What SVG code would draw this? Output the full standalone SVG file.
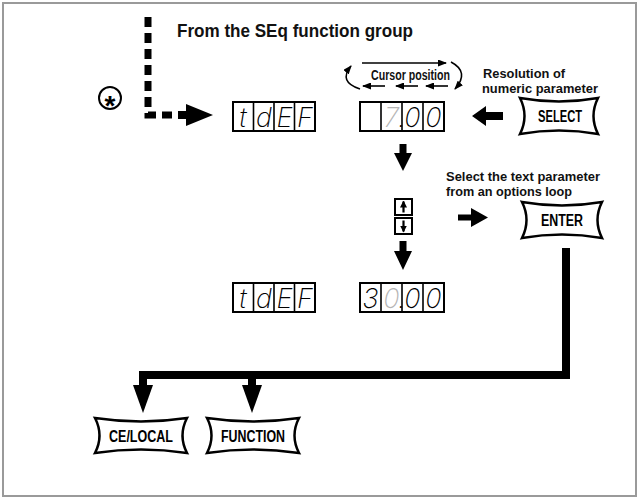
<svg xmlns="http://www.w3.org/2000/svg" width="640" height="500" viewBox="0 0 640 500">
<style>
.lbl{font-family:"Liberation Sans Narrow","Liberation Sans",Arial,sans-serif;font-weight:bold;fill:#111}
.btn{fill:#fff;stroke:#000;stroke-width:2.5;stroke-linejoin:miter}
.btxt{font-family:"Liberation Sans Narrow","Liberation Sans",Arial,sans-serif;font-weight:bold;font-size:16px;fill:#000;text-anchor:middle}
.disp{fill:#fff;stroke:#000;stroke-width:2}
.cell{stroke:#000;stroke-width:1.6}
.seg{font-family:Inter,"DejaVu Sans",sans-serif;font-weight:200;font-style:italic;font-size:27px;text-anchor:middle;fill:#000}
.thin{fill:none;stroke:#000;stroke-width:1.6}
.ud{fill:none;stroke:#000;stroke-width:2.2}
</style>
<defs>
<marker id="sh" viewBox="0 0 9 7" refX="8" refY="3.5" markerWidth="9" markerHeight="7" orient="auto" markerUnits="userSpaceOnUse">
<path d="M0,0 L9,3.5 L0,7 z" fill="#000"/>
</marker>
<marker id="ua" viewBox="0 0 7 7" refX="6" refY="3.5" markerWidth="7" markerHeight="7" orient="auto" markerUnits="userSpaceOnUse">
<path d="M0,0 L7,3.5 L0,7 z" fill="#000"/>
</marker>
</defs>
<rect x="3" y="3" width="633" height="493" fill="#fff" stroke="#9a9a9a" stroke-width="2"/>

<g id="label-from">
<text class="lbl" x="177" y="37" font-size="18" textLength="236" lengthAdjust="spacingAndGlyphs">From the SEq function group</text>
</g>

<g id="asterisk">
<circle cx="110" cy="98" r="11" fill="none" stroke="#000" stroke-width="2"/>
<text x="110" y="115" font-family="Liberation Sans,Arial,sans-serif" font-weight="bold" font-size="28" text-anchor="middle">*</text>
</g>

<g id="display-tdef-1">
<rect class="disp" x="233" y="102" width="82" height="29"/>
<path class="cell" d="M253.5,102V131M274,102V131M294.5,102V131"/>
<text class="seg" x="243 264 284.5 305" y="127">tdEF</text>
</g>

<g id="display-value-1">
<rect class="disp" x="360" y="102" width="84" height="29"/>
<path class="cell" d="M381,102V131M402,102V131M423,102V131"/>
<text class="seg" x="391.5 402 412.5 433.5" y="127"><tspan fill="#b5b5b5">7</tspan>.00</text>
</g>

<g id="label-cursor">
<text class="lbl" x="371" y="80" font-size="14.5" textLength="79" lengthAdjust="spacingAndGlyphs">Cursor position</text>
</g>

<g id="label-resolution">
<text class="lbl" x="483" y="78" font-size="13" textLength="82" lengthAdjust="spacingAndGlyphs">Resolution of</text>
<text class="lbl" x="482" y="92.6" font-size="13" textLength="116" lengthAdjust="spacingAndGlyphs">numeric parameter</text>
</g>

<g id="btn-select">
<path class="btn" d="M520,98 Q559,105 598,98 Q589,116 598,134 Q559,127 520,134 Q529,116 520,98 Z"/>
<text class="btxt" x="560" y="122" textLength="44" lengthAdjust="spacingAndGlyphs">SELECT</text>
</g>

<g id="updown">
<rect class="disp" x="395" y="199" width="17" height="16"/>
<rect class="disp" x="395" y="218" width="17" height="16"/>
<line class="ud" x1="403.5" y1="212.5" x2="403.5" y2="201.5" marker-end="url(#ua)"/>
<line class="ud" x1="403.5" y1="220.5" x2="403.5" y2="231.5" marker-end="url(#ua)"/>
</g>

<g id="label-select-text">
<text class="lbl" x="446" y="181" font-size="13" textLength="154" lengthAdjust="spacingAndGlyphs">Select the text parameter</text>
<text class="lbl" x="446" y="195.6" font-size="13" textLength="126" lengthAdjust="spacingAndGlyphs">from an options loop</text>
</g>

<g id="btn-enter">
<path class="btn" d="M522,202 Q562,209 602,202 Q593,220 602,238 Q562,231 522,238 Q531,220 522,202 Z"/>
<text class="btxt" x="562" y="226" textLength="42" lengthAdjust="spacingAndGlyphs">ENTER</text>
</g>

<g id="display-tdef-2">
<rect class="disp" x="233" y="283" width="82" height="29"/>
<path class="cell" d="M253.5,283V312M274,283V312M294.5,283V312"/>
<text class="seg" x="243 264 284.5 305" y="308">tdEF</text>
</g>

<g id="display-value-2">
<rect class="disp" x="360" y="283" width="84" height="29"/>
<path class="cell" d="M381,283V312M402,283V312M423,283V312"/>
<text class="seg" x="370.5 391.5 402 412.5 433.5" y="308">3<tspan fill="#b5b5b5">0</tspan>.00</text>
</g>

<g id="btn-celocal">
<path class="btn" d="M95,418 Q141,425 187,418 Q178,435.5 187,453 Q141,446 95,453 Q104,435.5 95,418 Z"/>
<text class="btxt" x="141" y="441.5" textLength="64" lengthAdjust="spacingAndGlyphs">CE/LOCAL</text>
</g>

<g id="btn-function">
<path class="btn" d="M207,418 Q253,425 299,418 Q290,435.5 299,453 Q253,446 207,453 Q216,435.5 207,418 Z"/>
<text class="btxt" x="253" y="441.5" textLength="64" lengthAdjust="spacingAndGlyphs">FUNCTION</text>
</g>

<g id="connectors">
<path d="M148,17 V115 H172" fill="none" stroke="#000" stroke-width="7" stroke-dasharray="10 6"/>
<polygon points="178,111 186,111 186,104 213,115 186,126 186,119 178,119" fill="#000"/>
<line class="thin" x1="362" y1="63" x2="446" y2="63" marker-end="url(#sh)"/>
<path class="thin" d="M451,62 Q470,72 455,89" marker-end="url(#sh)"/>
<path class="thin" d="M360,89 Q338,82 351,66" marker-end="url(#sh)"/>
<line class="thin" x1="385" y1="86" x2="363" y2="86" marker-end="url(#sh)"/>
<line class="thin" x1="418" y1="86" x2="396" y2="86" marker-end="url(#sh)"/>
<line class="thin" x1="448" y1="86" x2="426" y2="86" marker-end="url(#sh)"/>
<polygon points="503,112 486,112 486,106 472,116 486,126 486,120 503,120" fill="#000"/>
<polygon points="399.5,144 406.5,144 406.5,153 412,153 403,171 394,153 399.5,153" fill="#000"/>
<polygon points="399.5,241 406.5,241 406.5,251 412,251 403,270 394,251 399.5,251" fill="#000"/>
<polygon points="458,214.5 471,214.5 471,208 488,217.5 471,227 471,220.5 458,220.5" fill="#000"/>
<path d="M566,248 V375 H143 V388" fill="none" stroke="#000" stroke-width="8" stroke-linejoin="miter"/>
<path d="M252,371 V388" fill="none" stroke="#000" stroke-width="8"/>
<polygon points="133,385 153,385 143,413" fill="#000"/>
<polygon points="242,385 262,385 252,413" fill="#000"/>
</g>
</svg>
